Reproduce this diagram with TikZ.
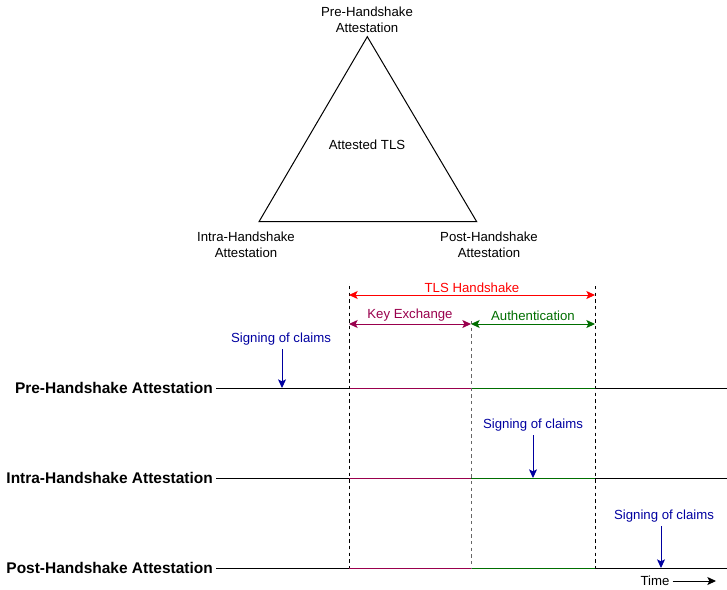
\documentclass[tikz,border=0pt]{standalone}
\usepackage{fontspec}
\setmainfont{Liberation Sans}
\usepackage{tikz}
\usetikzlibrary{arrows.meta}
\definecolor{kxcol}{RGB}{153,0,77}
\definecolor{aucol}{RGB}{0,110,0}
\definecolor{sigcol}{RGB}{0,0,160}

\begin{document}
\begin{tikzpicture}[x=0.75pt, y=-0.75pt, >={Stealth[length=6.5pt, width=6pt, inset=1.5pt]}]
		\tikzstyle{txt} = [inner sep = 0pt, align = center, font = \fontsize{9.9}{12}\selectfont]
		\tikzstyle{phase} = [inner sep = 0pt, anchor = east, font = \fontsize{11.6}{12}\selectfont\bfseries]
		\tikzstyle{tl} = [line width = 0.75pt, draw = black]
		\tikzstyle{sep} = [line width = 0.75pt, dash pattern = on 2.5pt off 2.5pt]
		\useasboundingbox (0, 0) rectangle (727, 589);
		
		% triangle
		\coordinate (apex) at (367.3, 36.7);
		\coordinate (leftv) at (259, 221.7);
		\coordinate (rightv) at (476.7, 221.7);
		\draw[line width = 0.75pt] (apex) -- (leftv) -- (rightv) -- cycle;
		
		\node[txt] at (367, 20) (pre) {Pre-Handshake\\Attestation};
		\node[txt] at (367, 145) (atls) {Attested TLS};
		\node[txt] at (246, 245) (intra) {Intra-Handshake\\Attestation};
		\node[txt] at (489, 245) (post) {Post-Handshake\\Attestation};
		
		% timelines
		\node[phase] at (213, 388) (lpre) {Pre-Handshake Attestation};
		\node[phase] at (213, 478) (lintra) {Intra-Handshake Attestation};
		\node[phase] at (213, 568) (lpost) {Post-Handshake Attestation};
		
		\coordinate (epre) at (727, 388);
		\coordinate (eintra) at (727, 478);
		\coordinate (epost) at (727, 568);
		
		\draw[tl] (lpre.east) ++(3, 0) -- (epre);
		\draw[tl] (lintra.east) ++(3, 0) -- (eintra);
		\draw[tl] (lpost.east) ++(3, 0) -- (epost);
		
		\coordinate (a1) at (349, 388);
		\coordinate (b1) at (471, 388);
		\coordinate (c1) at (595, 388);
		\coordinate (a2) at (349, 478);
		\coordinate (b2) at (471, 478);
		\coordinate (c2) at (595, 478);
		\coordinate (a3) at (349, 568);
		\coordinate (b3) at (471, 568);
		\coordinate (c3) at (595, 568);
		
		\draw[line width = 0.75pt, kxcol] (a1) -- (b1);
		\draw[line width = 0.75pt, kxcol] (a2) -- (b2);
		\draw[line width = 0.75pt, kxcol] (a3) -- (b3);
		\draw[line width = 0.75pt, aucol] (b1) -- (c1);
		\draw[line width = 0.75pt, aucol] (b2) -- (c2);
		\draw[line width = 0.75pt, aucol] (b3) -- (c3);
		
		% handshake phases
		\coordinate (ta) at (349, 286);
		\coordinate (tb) at (471, 321);
		\coordinate (tc) at (595, 286);
		\draw[sep] (ta) -- (a3);
		\draw[sep, black!60] (tb) -- (b3);
		\draw[sep] (tc) -- (c3);
		
		\coordinate (hsl) at (349, 295);
		\coordinate (hsr) at (595, 295);
		\coordinate (kxl) at (349, 324);
		\coordinate (kxr) at (471, 324);
		\coordinate (aur) at (595, 324);
		
		\draw[<->, line width = 0.75pt, red] (hsl) -- (hsr) node[midway, above = 1.5pt, txt] (hs) {TLS Handshake};
		\draw[<->, line width = 0.75pt, kxcol] (kxl) -- (kxr) node[midway, above = 1.5pt, txt] (kx) {Key Exchange};
		\draw[<->, line width = 0.75pt, aucol] (kxr) -- (aur) node[midway, above = 2pt, txt] (au) {Authentication};
		
		% signing of claims
		\node[txt, sigcol] at (281, 339) (sig1) {Signing of claims};
		\node[txt, sigcol] at (533, 425) (sig2) {Signing of claims};
		\node[txt, sigcol] at (664, 516) (sig3) {Signing of claims};
		
		\coordinate (s1) at (282, 388);
		\coordinate (s2) at (533, 478);
		\coordinate (s3) at (661, 568);
		\draw[->, line width = 0.75pt, sigcol] (sig1.south -| s1) ++(0, 4) -- (s1);
		\draw[->, line width = 0.75pt, sigcol] (sig2.south -| s2) ++(0, 4) -- (s2);
		\draw[->, line width = 0.75pt, sigcol] (sig3.south -| s3) ++(0, 4) -- (s3);
		
		% time
		\node[txt] at (655, 581) (time) {Time};
		\coordinate (tend) at (716, 581);
		\draw[->, line width = 0.75pt] (time.east) ++(3, 0) -- (tend);
\end{tikzpicture}
\end{document}
